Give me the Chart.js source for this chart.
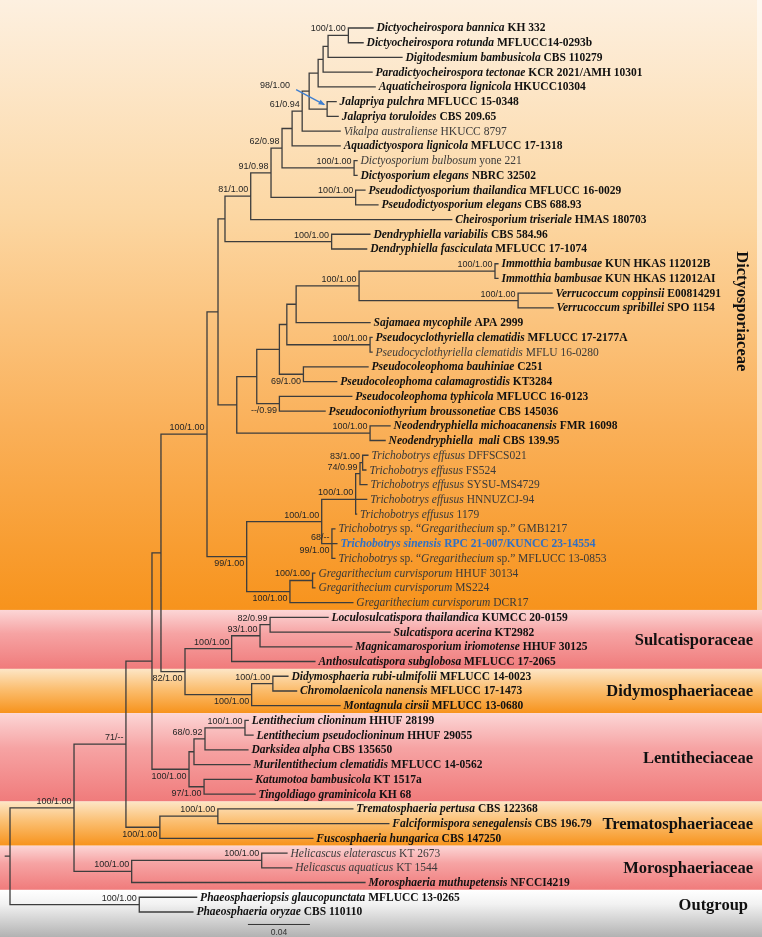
<!DOCTYPE html>
<html>
<head>
<meta charset="utf-8">
<script src="https://cdn.jsdelivr.net/npm/chart.js@4.4.1/dist/chart.umd.min.js"></script>
<style>
html, body { margin: 0; padding: 0; background: #fff; }
#wrap { width: 762px; height: 937px; }
</style>
</head>
<body>
<div id="wrap"><canvas id="tree" width="762" height="937"></canvas></div>
<script>
// tip names, top to bottom; *...* = italic
var taxa = [
  "*Dictyocheirospora bannica* KH 332",
  "*Dictyocheirospora rotunda* MFLUCC14-0293b",
  "*Digitodesmium bambusicola* CBS 110279",
  "*Paradictyocheirospora tectonae* KCR 2021/AMH 10301",
  "*Aquaticheirospora lignicola* HKUCC10304",
  "*Jalapriya pulchra* MFLUCC 15-0348",
  "*Jalapriya toruloides* CBS 209.65",
  "*Vikalpa australiense* HKUCC 8797",
  "*Aquadictyospora lignicola* MFLUCC 17-1318",
  "*Dictyosporium bulbosum* yone 221",
  "*Dictyosporium elegans* NBRC 32502",
  "*Pseudodictyosporium thailandica* MFLUCC 16-0029",
  "*Pseudodictyosporium elegans* CBS 688.93",
  "*Cheirosporium triseriale* HMAS 180703",
  "*Dendryphiella variabilis* CBS 584.96",
  "*Dendryphiella fasciculata* MFLUCC 17-1074",
  "*Immotthia bambusae* KUN HKAS 112012B",
  "*Immotthia bambusae* KUN HKAS 112012AI",
  "*Verrucoccum coppinsii* E00814291",
  "*Verrucoccum spribillei* SPO 1154",
  "*Sajamaea mycophile* APA 2999",
  "*Pseudocyclothyriella clematidis* MFLUCC 17-2177A",
  "*Pseudocyclothyriella clematidis* MFLU 16-0280",
  "*Pseudocoleophoma bauhiniae* C251",
  "*Pseudocoleophoma calamagrostidis* KT3284",
  "*Pseudocoleophoma typhicola* MFLUCC 16-0123",
  "*Pseudoconiothyrium broussonetiae* CBS 145036",
  "*Neodendryphiella michoacanensis* FMR 16098",
  "*Neodendryphiella  mali* CBS 139.95",
  "*Trichobotrys effusus* DFFSCS021",
  "*Trichobotrys effusus* FS524",
  "*Trichobotrys effusus* SYSU-MS4729",
  "*Trichobotrys effusus* HNNUZCJ-94",
  "*Trichobotrys effusus* 1179",
  "*Trichobotrys* sp. \u201c*Gregarithecium* sp.\u201d GMB1217",
  "*Trichobotrys sinensis* RPC 21-007/KUNCC 23-14554",
  "*Trichobotrys* sp. \u201c*Gregarithecium* sp.\u201d MFLUCC 13-0853",
  "*Gregarithecium curvisporum* HHUF 30134",
  "*Gregarithecium curvisporum* MS224",
  "*Gregarithecium curvisporum* DCR17",
  "*Loculosulcatispora thailandica* KUMCC 20-0159",
  "*Sulcatispora acerina* KT2982",
  "*Magnicamarosporium iriomotense* HHUF 30125",
  "*Anthosulcatispora subglobosa* MFLUCC 17-2065",
  "*Didymosphaeria rubi-ulmifolii* MFLUCC 14-0023",
  "*Chromolaenicola nanensis* MFLUCC 17-1473",
  "*Montagnula cirsii* MFLUCC 13-0680",
  "*Lentithecium clioninum* HHUF 28199",
  "*Lentithecium pseudoclioninum* HHUF 29055",
  "*Darksidea alpha* CBS 135650",
  "*Murilentithecium clematidis* MFLUCC 14-0562",
  "*Katumotoa bambusicola* KT 1517a",
  "*Tingoldiago graminicola* KH 68",
  "*Trematosphaeria pertusa* CBS 122368",
  "*Falciformispora senegalensis* CBS 196.79",
  "*Fuscosphaeria hungarica* CBS 147250",
  "*Helicascus elaterascus* KT 2673",
  "*Helicascus aquaticus* KT 1544",
  "*Morosphaeria muthupetensis* NFCCI4219",
  "*Phaeosphaeriopsis glaucopunctata* MFLUCC 13-0265",
  "*Phaeosphaeria oryzae* CBS 110110"
];

// terminal branch lengths, same order as taxa
var tipLengths = [
  0.0159, 0.0095, 0.0477, 0.0316, 0.0368, 0.0058, 0.0071, 0.0245, 0.0310, 0.0019,
  0.0019, 0.0060, 0.0144, 0.1297, 0.0247, 0.0226, 0.0019, 0.0019, 0.0219, 0.0226,
  0.0477, 0.0013, 0.0013, 0.0417, 0.0215, 0.0467, 0.0295, 0.0129, 0.0097, 0.0034,
  0.0021, 0.0045, 0.0071, 0.0006, 0.0019, 0.0032, 0.0019, 0.0015, 0.0015, 0.0406,
  0.0374, 0.0774, 0.0592, 0.0537, 0.0097, 0.0153, 0.0570, 0.0021, 0.0052, 0.0277,
  0.0361, 0.0308, 0.0329, 0.0871, 0.1103, 0.0987, 0.0163, 0.0194, 0.1505, 0.0370,
  0.0346
];

// tips printed in regular weight (the rest are bold)
var plainTips = [7, 9, 22, 29, 30, 31, 32, 33, 34, 36, 37, 38, 39, 56, 57];
var newTip = 35;

// internal nodes: name, children (numbers = tips), branch length, support "above|below"
var clades = [
  ["A", [0, 1], 0.0131, "100/1.00"],
  ["B", ["A", 2], 0.0032, ""],
  ["C", ["B", 3], 0.0032, ""],
  ["D", ["C", 4], 0.0058, ""],
  ["J", [5, 6], 0.0116, "^98/1.00"],
  ["E", ["D", "J"], 0.0045, ""],
  ["F", ["E", 7], 0.0065, "61/0.94"],
  ["G", ["F", 8], 0.0065, ""],
  ["Dsp", [9, 10], 0.0465, "100/1.00"],
  ["H", ["G", "Dsp"], 0.0071, "62/0.98"],
  ["Pds", [11, 12], 0.0546, "100/1.00"],
  ["I", ["H", "Pds"], 0.0131, "91/0.98"],
  ["K", ["I", 13], 0.0166, "81/1.00"],
  ["Den", [14, 15], 0.0688, "100/1.00"],
  ["L", ["K", "Den"], 0.0045, ""],
  ["Imm", [16, 17], 0.0877, "100/1.00"],
  ["Ver", [18, 19], 0.1026, "100/1.00"],
  ["R", ["Imm", "Ver"], 0.0406, "100/1.00"],
  ["Q", ["R", 20], 0.0060, ""],
  ["Pcy", [21, 22], 0.0537, "100/1.00"],
  ["P", ["Q", "Pcy"], 0.0048, ""],
  ["Pco", [23, 24], 0.0155, "|69/1.00"],
  ["N4", ["P", "Pco"], 0.0146, ""],
  ["N5", [25, 26], 0.0146, "|--/0.99"],
  ["N3", ["N4", "N5"], 0.0129, ""],
  ["Neo", [27, 28], 0.0860, "100/1.00"],
  ["N2", ["N3", "Neo"], 0.0121, ""],
  ["M", ["L", "N2"], 0.0071, ""],
  ["T83", [29, 30], 0.0017, "83/1.00"],
  ["T74", ["T83", 31], 0.0028, "74/0.99"],
  ["Teff", ["T74", 32, 33], 0.0219, "100/1.00"],
  ["Tsp", [34, 35, 36], 0.0066, "68/--|99/1.00"],
  ["Tri", ["Teff", "Tsp"], 0.0484, "100/1.00"],
  ["Gcu", [37, 38], 0.0146, "100/1.00"],
  ["Gre", ["Gcu", 39], 0.0279, "|100/1.00"],
  ["TG", ["Tri", "Gre"], 0.0256, "|99/1.00"],
  ["Dicty", ["M", "TG"], 0.0297, "100/1.00"],
  ["S82", [40, 41], 0.0065, "82/0.99"],
  ["S93", ["S82", 42], 0.0183, "93/1.00"],
  ["Sulc", ["S93", 43], 0.0301, "100/1.00"],
  ["Dm", [44, 45], 0.0137, "100/1.00"],
  ["Didy", ["Dm", 46], 0.0430, "|100/1.00"],
  ["SD", ["Sulc", "Didy"], 0.0155, "|82/1.00"],
  ["DSD", ["Dicty", "SD"], 0.0058, ""],
  ["Len", [47, 48], 0.0258, "100/1.00"],
  ["L68", ["Len", 49], 0.0071, "68/0.92"],
  ["Lm", ["L68", 50], 0.0032, ""],
  ["L97", [51, 52], 0.0097, "|97/1.00"],
  ["Lent", ["Lm", "L97"], 0.0239, "|100/1.00"],
  ["DSDL", ["DSD", "Lent"], 0.0168, ""],
  ["Tr", [53, 54], 0.0374, "100/1.00"],
  ["Trem", ["Tr", 55], 0.0219, "|100/1.00"],
  ["C71", ["DSDL", "Trem"], 0.0335, "71/--"],
  ["Hel", [56, 57], 0.0839, "100/1.00"],
  ["Moro", ["Hel", 58], 0.0372, "100/1.00"],
  ["Ingroup", ["C71", "Moro"], 0.0413, "100/1.00"],
  ["Out", [59, 60], 0.0834, "100/1.00"],
  ["root", ["Ingroup", "Out"], 0.0030, ""]
];

var families = ["Dictyosporiaceae", "Sulcatisporaceae", "Didymosphaeriaceae", "Lentitheciaceae",
                "Trematosphaeriaceae", "Morosphaeriaceae", "Outgroup"];
var familyFirstTip = [0, 40, 44, 47, 53, 56, 59];
var familyLastTip = [39, 43, 46, 52, 55, 58, 60];
var familyTone = ["orange", "pink", "orange", "pink", "orange", "pink", "grey"];

var scaleBarLength = 0.04;
var scaleBarStart = 0.1565;

// ---- build the tree ----
var byName = {};
clades.forEach(function(c){ byName[c[0]] = c; });

function build(ref){
  if (typeof ref === "number") return { tip: ref, len: tipLengths[ref], children: [], label: "" };
  var c = byName[ref];
  return { name: c[0], len: c[2], label: c[3], children: c[1].map(build) };
}
var tree = build("root");

function layout(n, depth){
  n.x = depth + n.len;
  n.px = depth;
  if (n.children.length){
    n.children.forEach(function(ch){ layout(ch, n.x); });
    var k = n.children.length;
    n.y = (k > 2 && k % 2 === 1) ? n.children[(k - 1) / 2].y : (n.children[0].y + n.children[k - 1].y) / 2;
  } else {
    n.y = n.tip;
  }
}
layout(tree, 0);

var segs = [], nodes = [];
(function walk(n){
  nodes.push(n);
  segs.push({x: n.px, y: n.y}, {x: n.x, y: n.y}, {x: n.x, y: null});
  if (n.children.length){
    var k = n.children.length;
    segs.push({x: n.x, y: n.children[0].y}, {x: n.x, y: n.children[k - 1].y}, {x: n.x, y: null});
    n.children.forEach(walk);
  }
})(tree);

// pixel mapping: 1550 px per unit, tips every 14.733 px from y=28
var xMin = -5.35 / 1550, xMax = xMin + 762 / 1550;
var yMin = -28 / 14.733, yMax = yMin + 937 / 14.733;

var tones = {
  orange: [[0, "#fde6c6"], [0.45, "#fbbf72"], [1, "#f7931c"]],
  pink: [[0, "#fcd6d6"], [0.4, "#f6a3a3"], [1, "#f07b7b"]],
  grey: [[0, "#ffffff"], [0.3, "#f2f2f2"], [1, "#b2b2b2"]]
};
var dictyTone = [[0, "#fdf0e0"], [0.35, "#fcd7a3"], [0.7, "#fab059"], [1, "#f7931c"]];

var bandsPlugin = {
  id: "bands",
  beforeDraw: function(chart){
    var ctx = chart.ctx, y = chart.scales.y, W = chart.width, H = chart.height;
    ctx.save();
    families.forEach(function(f, k){
      var top = k === 0 ? 0 : y.getPixelForValue(familyFirstTip[k] - 0.5);
      var bot = k === families.length - 1 ? H : y.getPixelForValue(familyLastTip[k] + 0.5);
      var g = ctx.createLinearGradient(0, top, 0, bot);
      (k === 0 ? dictyTone : tones[familyTone[k]]).forEach(function(s){ g.addColorStop(s[0], s[1]); });
      ctx.fillStyle = g;
      ctx.fillRect(0, top, W, bot - top);
      if (k === 0){
        ctx.fillStyle = "rgba(255,255,255,0.55)";
        ctx.fillRect(757, top, W - 757, bot - top);
      }
    });
    ctx.restore();
  }
};

function drawRich(ctx, str, x, y, bold, color){
  var parts = str.split("*");
  ctx.fillStyle = color;
  for (var k = 0; k < parts.length; k++){
    if (!parts[k]) continue;
    ctx.font = (k % 2 === 1 ? "italic " : "") + (bold ? "bold " : "") + "11.5px 'Liberation Serif', 'Times New Roman', serif";
    ctx.fillText(parts[k], x, y);
    x += ctx.measureText(parts[k]).width;
  }
}

var labelsPlugin = {
  id: "treeLabels",
  afterDatasetsDraw: function(chart){
    var ctx = chart.ctx, xs = chart.scales.x, ys = chart.scales.y;
    ctx.save();
    // tip names
    ctx.textAlign = "left";
    ctx.textBaseline = "middle";
    nodes.forEach(function(n){
      if (n.children.length) return;
      var bold = plainTips.indexOf(n.tip) < 0;
      var color = n.tip === newTip ? "#2f70c6" : (bold ? "#111" : "#3a3a3a");
      drawRich(ctx, taxa[n.tip], xs.getPixelForValue(n.x) + 3.5, ys.getPixelForValue(n.y) + 0.5, bold, color);
    });
    // support values
    ctx.font = "9px 'Liberation Sans', Arial, sans-serif";
    ctx.fillStyle = "#262626";
    ctx.textAlign = "right";
    nodes.forEach(function(n){
      if (!n.label) return;
      var nx = xs.getPixelForValue(n.x), ny = ys.getPixelForValue(n.y);
      if (n.label.charAt(0) === "^"){
        ctx.fillText(n.label.slice(1), nx - 37, ny - 23.5);
        ctx.strokeStyle = "#3f7fd0";
        ctx.lineWidth = 1.4;
        var x0 = nx - 31, y0 = ny - 19.5, x1 = nx - 3, y1 = ny - 4.5;
        ctx.beginPath(); ctx.moveTo(x0, y0); ctx.lineTo(x1, y1); ctx.stroke();
        var a = Math.atan2(y1 - y0, x1 - x0);
        ctx.fillStyle = "#3f7fd0";
        ctx.beginPath();
        ctx.moveTo(x1 + 1, y1 + 0.5);
        ctx.lineTo(x1 - 6 * Math.cos(a - 0.45), y1 - 6 * Math.sin(a - 0.45));
        ctx.lineTo(x1 - 6 * Math.cos(a + 0.45), y1 - 6 * Math.sin(a + 0.45));
        ctx.closePath(); ctx.fill();
        ctx.fillStyle = "#262626";
        return;
      }
      var parts = n.label.split("|");
      if (parts[0]) ctx.fillText(parts[0], nx - 2.5, ny - 6.5);
      if (parts[1]) ctx.fillText(parts[1], nx - 2.5, ny + 7);
    });
    // family names
    ctx.fillStyle = "#111";
    ctx.font = "bold 16.5px 'Liberation Serif', 'Times New Roman', serif";
    families.forEach(function(f, k){
      var cy = (ys.getPixelForValue(familyFirstTip[k]) + ys.getPixelForValue(familyLastTip[k])) / 2;
      if (k === 0){
        ctx.save();
        ctx.translate(741, cy - 4);
        ctx.rotate(Math.PI / 2);
        ctx.textAlign = "center";
        ctx.fillText(f, 0, 0);
        ctx.restore();
      } else {
        ctx.textAlign = "right";
        ctx.fillText(f, f === "Outgroup" ? 748 : 753, cy + 1);
      }
    });
    // scale bar, below the last tip
    var by = ys.getPixelForValue(familyLastTip[families.length - 1]) + 12;
    var bx0 = xs.getPixelForValue(scaleBarStart), bx1 = xs.getPixelForValue(scaleBarStart + scaleBarLength);
    ctx.strokeStyle = "#333";
    ctx.lineWidth = 1;
    ctx.beginPath(); ctx.moveTo(bx0, by + 0.5); ctx.lineTo(bx1, by + 0.5); ctx.stroke();
    ctx.font = "8.5px 'Liberation Sans', Arial, sans-serif";
    ctx.fillStyle = "#333";
    ctx.textAlign = "center";
    ctx.fillText(scaleBarLength.toFixed(2), (bx0 + bx1) / 2, by + 8.5);
    ctx.restore();
  }
};

new Chart(document.getElementById("tree"), {
  type: "scatter",
  data: {
    datasets: [{
      data: segs,
      showLine: true,
      spanGaps: false,
      borderColor: "#3d3d3d",
      borderWidth: 1.3,
      borderCapStyle: "square",
      pointRadius: 0,
      pointHoverRadius: 0,
      tension: 0,
      clip: false
    }]
  },
  options: {
    responsive: false,
    animation: false,
    devicePixelRatio: 1,
    events: [],
    layout: { padding: 0 },
    plugins: { legend: { display: false }, tooltip: { enabled: false } },
    scales: {
      x: { type: "linear", display: false, min: xMin, max: xMax },
      y: { type: "linear", display: false, reverse: true, min: yMin, max: yMax }
    }
  },
  plugins: [bandsPlugin, labelsPlugin]
});
</script>
</body>
</html>
